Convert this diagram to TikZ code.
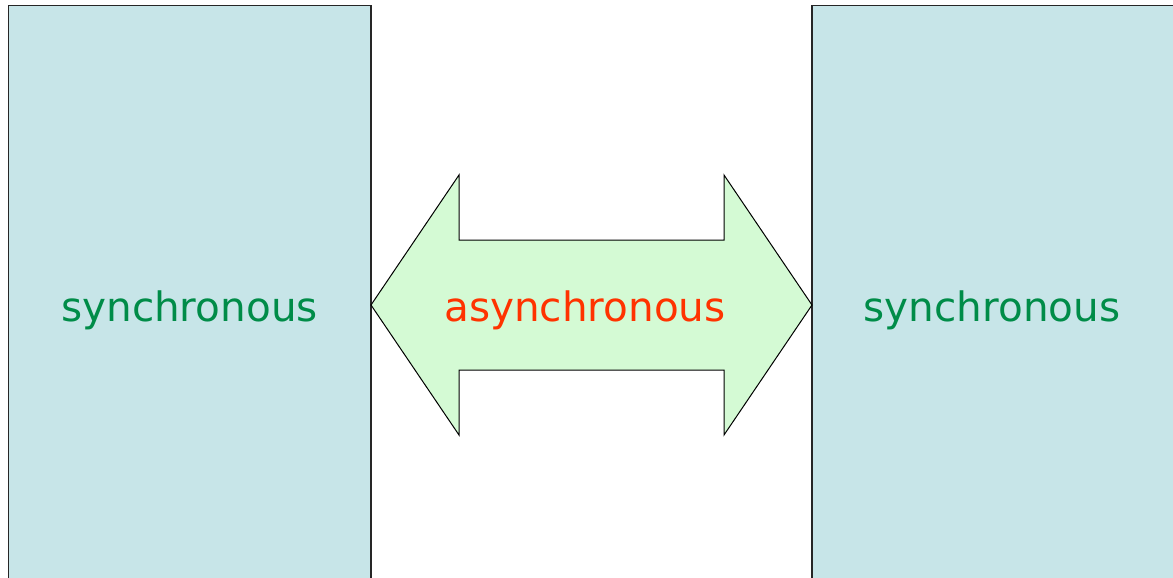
\documentclass[tikz,border=0pt]{standalone}
\usepackage{fontspec}
\setmainfont{DejaVu Sans}
\usepackage{tikz}
\usetikzlibrary{positioning}
\definecolor{domaincyan}{RGB}{199,229,232}
\definecolor{bridgegreen}{RGB}{212,250,212}
\definecolor{syncgreen}{RGB}{0,140,72}
\definecolor{asyncred}{RGB}{255,51,0}
\tikzset{
  clockbox/.style = {fill=domaincyan, draw=black!85, line width=1.4pt},
  crossing/.style = {fill=bridgegreen, draw=black, line width=1pt, line join=miter},
  tag/.style = {font=\fontsize{40.5}{42}\selectfont, inner sep=0pt},
}

\begin{document}
\begin{tikzpicture}[x=1pt, y=-1pt]
  \useasboundingbox (0,0) rectangle (1173,578);
  \clip (0,0) rectangle (1173,578);

  % clock domains on both sides
  \draw[clockbox] (8.5,5.5) rectangle (371,600);
  \draw[clockbox] (812,5.5) rectangle (1200,600);

  % crossing between them
  \draw[crossing]
  (371,305) -- (459,175) -- (459,240) -- (724,240) -- (724,175)
  -- (812,305) -- (724,435) -- (724,370) -- (459,370) -- (459,435)
  -- cycle;

  \node[tag, text=syncgreen] (left) at (189.5,310) {synchronous};
  \node[tag, text=asyncred] (mid) at (585,310) {asynchronous};
  \node[tag, text=syncgreen] (right) at (992,310) {synchronous};
\end{tikzpicture}
\end{document}
